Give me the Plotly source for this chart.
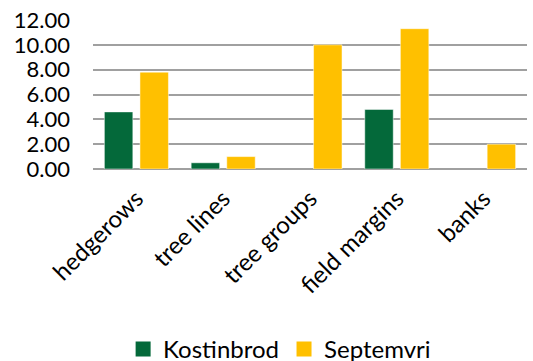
import plotly.graph_objects as go

categories = ["hedgerows", "tree lines", "tree groups", "field margins", "banks"]
kostinbrod = [4.6, 0.5, None, 4.8, None]
septemvri = [7.8, 1.0, 10.0, 11.3, 2.0]
tick_vals = [0, 2, 4, 6, 8, 10, 12]
tick_text = ["0.00", "2.00", "4.00", "6.00", "8.00", "10.00", "12.00"]
series_names = ["Kostinbrod", "Septemvri"]
series_colors = ["#04693A", "#FFC000"]

FONT = "Lato"

fig = go.Figure()
for name, vals, col in zip(series_names, [kostinbrod, septemvri], series_colors):
    fig.add_trace(go.Bar(name=name, x=categories, y=vals, showlegend=False,
                         marker=dict(color=col, line=dict(color="#FFFFFF", width=0.5))))
for name, col in zip(series_names, series_colors):
    fig.add_trace(go.Scatter(name=name, x=[None], y=[None], mode="markers",
                             marker=dict(symbol="square", size=15, color=col),
                             showlegend=True))

fig.update_layout(
    width=533, height=361,
    margin=dict(l=93, r=6, t=20, b=192, autoexpand=False),
    paper_bgcolor="white", plot_bgcolor="white",
    barmode="group", bargap=0.18, bargroupgap=0.2,
    font=dict(family=FONT, size=22, color="#000000"),
    showlegend=True,
    legend=dict(orientation="h", x=0.43, xanchor="center", y=-1.21, yanchor="middle",
                font=dict(family=FONT, size=24, color="#000000"),
                itemwidth=30, tracegroupgap=0),
)
fig.update_yaxes(range=[0, 12], tickvals=tick_vals, ticktext=tick_text,
                 showgrid=True, gridcolor="#A0A0A0", gridwidth=1.5,
                 zeroline=True, zerolinecolor="#A0A0A0", zerolinewidth=1.5,
                 showline=False, ticks="", ticklabelstandoff=22,
                 tickfont=dict(family=FONT, size=22, color="#000000"))
fig.update_xaxes(tickangle=-45, showline=False, ticks="", showgrid=False,
                 ticklabelstandoff=10,
                 tickfont=dict(family=FONT, size=24, color="#000000"))

fig.write_html("out.html")
